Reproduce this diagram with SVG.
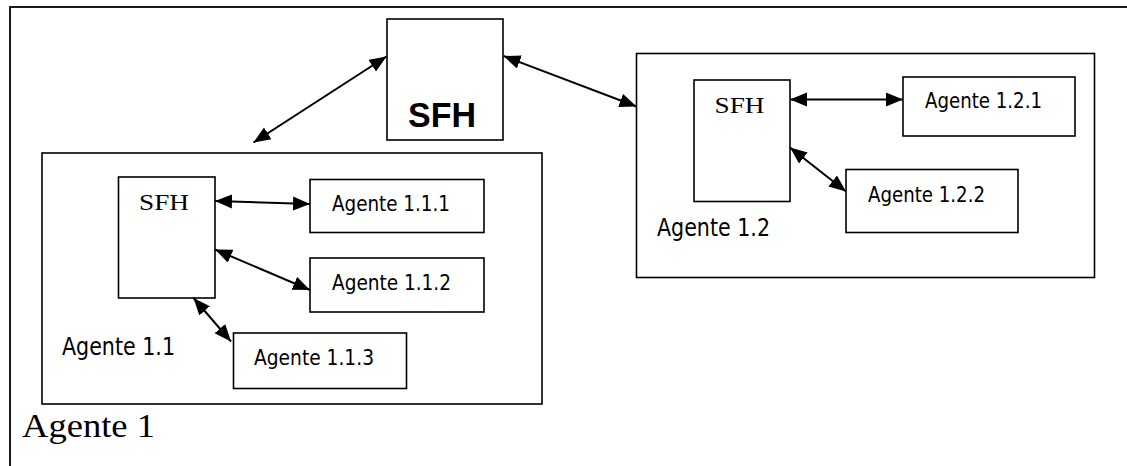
<svg xmlns="http://www.w3.org/2000/svg" width="1127" height="466" viewBox="0 0 1127 466">
  <style>
    .box { fill: #fff; stroke: #000; stroke-width: 1.6; }
    .frame { fill: none; stroke: #000; stroke-width: 1.8; }
    .conn { stroke: #000; stroke-width: 2; fill: none; marker-start: url(#head); marker-end: url(#head); }
    .sans { font-family: "DejaVu Sans Condensed", "DejaVu Sans", sans-serif; font-stretch: condensed; fill: #000; }
    .serif { font-family: "Liberation Serif", "DejaVu Serif", serif; fill: #000; }
    .bold { font-family: "Liberation Sans", Arial, sans-serif; font-weight: bold; fill: #000; }
  </style>
  <defs>
    <marker id="head" markerUnits="userSpaceOnUse" markerWidth="18" markerHeight="15" refX="17" refY="7" orient="auto-start-reverse">
      <path d="M0,0 L17,7 L0,14 z" fill="#000"/>
    </marker>
  </defs>
  <rect width="1127" height="466" fill="#fff"/>

  <!-- Agente 1: outer container, open on the right and bottom -->
  <g id="agente-1">
    <rect class="frame" x="10" y="7" width="1200" height="500"/>
    <text class="serif" x="22" y="437" font-size="34" textLength="133" lengthAdjust="spacingAndGlyphs">Agente 1</text>
  </g>

  <!-- top-level SFH -->
  <g id="sfh-root">
    <rect class="box" x="387" y="19" width="116" height="121"/>
    <text class="bold" x="442" y="127" font-size="35" text-anchor="middle" textLength="68" lengthAdjust="spacingAndGlyphs">SFH</text>
  </g>

  <!-- Agente 1.1 -->
  <g id="agente-1-1">
    <rect class="box" x="42" y="153" width="500" height="251"/>
    <text class="sans" x="62" y="355" font-size="24" textLength="113" lengthAdjust="spacingAndGlyphs">Agente 1.1</text>
  </g>
  <g id="sfh-1-1">
    <rect class="box" x="118.5" y="177" width="96.5" height="121"/>
    <text class="serif" x="164" y="210" font-size="24" text-anchor="middle" textLength="50" lengthAdjust="spacingAndGlyphs">SFH</text>
  </g>
  <g id="agente-1-1-1">
    <rect class="box" x="310" y="179.5" width="174" height="53"/>
    <text class="sans" x="332" y="211" font-size="21.5" textLength="118" lengthAdjust="spacingAndGlyphs">Agente 1.1.1</text>
  </g>
  <g id="agente-1-1-2">
    <rect class="box" x="310" y="258" width="174" height="54"/>
    <text class="sans" x="332" y="290" font-size="21.5" textLength="119" lengthAdjust="spacingAndGlyphs">Agente 1.1.2</text>
  </g>
  <g id="agente-1-1-3">
    <rect class="box" x="233.5" y="333" width="173" height="55.5"/>
    <text class="sans" x="254" y="365" font-size="21.5" textLength="120" lengthAdjust="spacingAndGlyphs">Agente 1.1.3</text>
  </g>

  <!-- Agente 1.2 -->
  <g id="agente-1-2">
    <rect class="box" x="636.5" y="53.5" width="458" height="224"/>
    <text class="sans" x="657" y="236" font-size="24" textLength="113" lengthAdjust="spacingAndGlyphs">Agente 1.2</text>
  </g>
  <g id="sfh-1-2">
    <rect class="box" x="694" y="80" width="96" height="121.5"/>
    <text class="serif" x="739.5" y="113" font-size="24" text-anchor="middle" textLength="50" lengthAdjust="spacingAndGlyphs">SFH</text>
  </g>
  <g id="agente-1-2-1">
    <rect class="box" x="903" y="77" width="172" height="59"/>
    <text class="sans" x="925" y="108" font-size="21.5" textLength="117" lengthAdjust="spacingAndGlyphs">Agente 1.2.1</text>
  </g>
  <g id="agente-1-2-2">
    <rect class="box" x="846" y="169.5" width="172" height="63"/>
    <text class="sans" x="868" y="202" font-size="21.5" textLength="117" lengthAdjust="spacingAndGlyphs">Agente 1.2.2</text>
  </g>

  <!-- bidirectional connectors -->
  <g id="connectors">
    <line class="conn" x1="386.5" y1="56.5" x2="253.5" y2="142.5"/>
    <line class="conn" x1="503.5" y1="56" x2="636.5" y2="106.5"/>
    <line class="conn" x1="215" y1="201" x2="310" y2="204"/>
    <line class="conn" x1="215" y1="249.5" x2="310" y2="290"/>
    <line class="conn" x1="193.5" y1="298" x2="231" y2="341.5"/>
    <line class="conn" x1="790" y1="99.5" x2="903" y2="99.5"/>
    <line class="conn" x1="790" y1="147.5" x2="846" y2="191.5"/>
  </g>
</svg>
